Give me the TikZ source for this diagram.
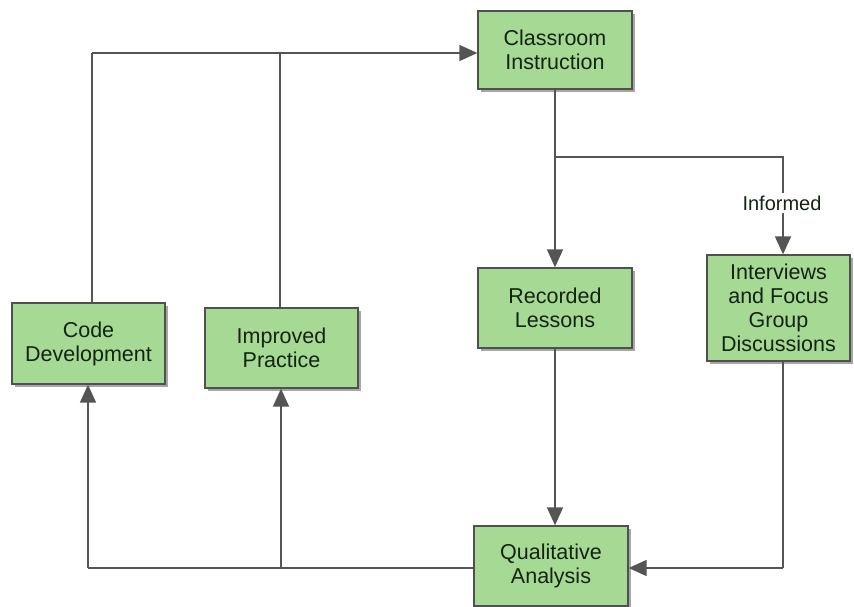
\documentclass[tikz,border=0pt]{standalone}
\usepackage{fontspec}
\setmainfont{Liberation Sans}
\usetikzlibrary{arrows.meta,shadows}
\definecolor{boxfill}{RGB}{166,218,148}
\definecolor{boxline}{RGB}{80,80,80}
\definecolor{linecol}{RGB}{85,85,85}
\definecolor{txt}{RGB}{20,35,20}
\begin{document}
\begin{tikzpicture}[x=1pt,y=-1pt,
  box/.style={draw=boxline,line width=1.3pt,fill=boxfill,text=txt,align=center,
    font=\fontsize{21.5}{24}\selectfont,inner sep=0pt,
    drop shadow={shadow xshift=2.5pt,shadow yshift=-2.5pt,fill=black,opacity=0.35}},
  conn/.style={draw=linecol,line width=1.6pt},
  arr/.style={conn,-{Triangle[length=18pt,width=16pt]}}]
\useasboundingbox (0,0) rectangle (854,606);
\node[box,minimum width=154pt,minimum height=78pt] (ci) at (555,50) {Classroom\\Instruction};
\node[box,minimum width=154pt,minimum height=80pt] (rl) at (555,308) {Recorded\\Lessons};
\node[box,minimum width=143pt,minimum height=106pt] (iv) at (778.5,308) {Interviews\\and Focus\\Group\\Discussions};
\node[box,minimum width=153pt,minimum height=81pt] (cd) at (88.5,343.5) {Code\\Development};
\node[box,minimum width=153pt,minimum height=80pt] (ip) at (281.5,348) {Improved\\Practice};
\node[box,minimum width=154pt,minimum height=80pt] (qa) at (551,566) {Qualitative\\Analysis};
\coordinate (top) at (92,53);
\coordinate (split) at (555,157);
\coordinate (ir) at (783,157);
\coordinate (bl) at (88,568);
\coordinate (bm) at (281,568);
\coordinate (br) at (783,568);
\node[font=\fontsize{20}{22}\selectfont,text=txt,fill=white,inner sep=2pt] (inf) at (782,203) {Informed};
% top loop
\draw[conn] (cd.north -| top) -- (top);
\draw[arr] (top) -- (ci.west |- top);
\draw[conn] (ip.north -| 280,0) -- (280,53);
% classroom split
\draw[conn,line width=2.2pt] (ci.south) -- (split);
\draw[conn] (split) -- (ir) -- (inf.north -| ir);
\draw[arr] (inf.south -| ir) -- (iv.north -| ir);
\draw[arr] (split) -- (rl.north);
\draw[arr] (rl.south) -- (qa.north -| rl.south);
% interviews to analysis
\draw[conn] (iv.south -| br) -- (br);
\draw[arr] (br) -- (qa.east |- br);
% analysis to code/improved
\draw[conn] (qa.west |- bl) -- (bl);
\draw[arr] (bl) -- (cd.south -| bl);
\draw[arr] (bm) -- (ip.south -| bm);
\end{tikzpicture}
\end{document}
